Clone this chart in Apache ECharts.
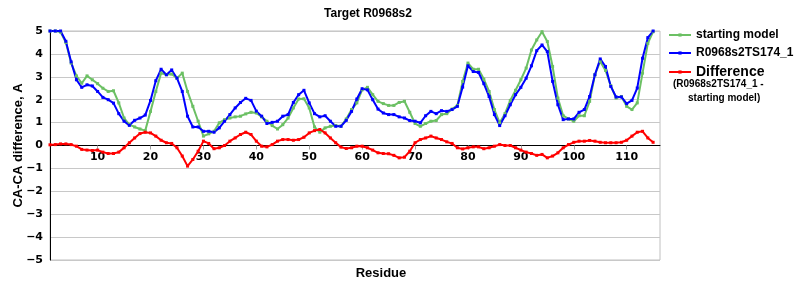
<!DOCTYPE html>
<html>
<head>
<meta charset="utf-8">
<script src="https://cdn.jsdelivr.net/npm/echarts@6/dist/echarts.min.js"></script>
<style>html,body{margin:0;padding:0;background:#fff}#c{width:800px;height:300px}</style>
</head>
<body>
<div id="c"></div>
<script>
var residues = [];
for (var i = 1; i <= 115; i++) residues.push(i);

var startingModel = [
  5.0, 5.0, 4.95, 4.5, 3.6, 3.04, 2.72, 3.04, 2.87, 2.7,
  2.5, 2.36, 2.39, 1.86, 1.2, 0.91, 0.81, 0.72, 0.65, 1.49,
  2.36, 3.16, 3.09, 3.12, 2.94, 3.16, 2.36, 1.71, 1.06, 0.41,
  0.51, 0.62, 0.99, 1.13, 1.2, 1.25, 1.28, 1.38, 1.45, 1.42,
  1.25, 1.06, 0.87, 0.72, 0.91, 1.2, 1.64, 2.03, 2.04, 1.64,
  0.81, 0.58, 0.77, 0.84, 0.87, 0.84, 1.16, 1.57, 1.86, 2.43,
  2.54, 2.22, 1.93, 1.83, 1.75, 1.75, 1.88, 1.93, 1.45, 0.96,
  0.84, 0.96, 1.06, 1.09, 1.35, 1.39, 1.59, 1.75, 2.8, 3.6,
  3.33, 3.33, 2.9, 2.36, 1.57, 0.99, 1.39, 1.97, 2.41, 2.87,
  3.38, 4.17, 4.61, 4.97, 4.54, 3.45, 2.07, 1.3, 1.16, 1.06,
  1.3, 1.3, 1.93, 3.09, 3.67, 3.28, 2.61, 2.07, 2.14, 1.71,
  1.57, 1.86, 3.16, 4.46, 4.97
];

var modelTS174 = [
  5.0, 5.0, 5.0, 4.55, 3.65, 2.87, 2.54, 2.65, 2.6, 2.36,
  2.1, 2.0, 1.85, 1.39, 1.06, 0.88, 1.1, 1.2, 1.33, 1.97,
  2.83, 3.33, 3.09, 3.3, 2.94, 2.36, 1.28, 0.81, 0.81, 0.62,
  0.62, 0.58, 0.77, 1.06, 1.35, 1.64, 1.88, 2.06, 1.97, 1.5,
  1.28, 0.96, 1.01, 1.06, 1.28, 1.35, 1.88, 2.22, 2.41, 1.86,
  1.39, 1.25, 1.3, 1.06, 0.84, 0.84, 1.1, 1.49, 2.03, 2.48,
  2.43, 2.0, 1.59, 1.42, 1.35, 1.35, 1.25, 1.2, 1.09, 1.06,
  0.99, 1.3, 1.49, 1.39, 1.52, 1.49, 1.57, 1.71, 2.55, 3.48,
  3.23, 3.19, 2.7, 2.14, 1.35, 0.87, 1.3, 1.78, 2.22, 2.54,
  2.94, 3.48, 4.14, 4.39, 4.1, 2.8, 1.78, 1.13, 1.16, 1.16,
  1.45, 1.57, 2.14, 3.09, 3.78, 3.45, 2.58, 2.12, 2.12, 1.83,
  1.97, 2.51, 3.81, 4.71, 5.0
];

var difference = [
  0.03, 0.04, 0.07, 0.07, 0.04, -0.03, -0.17, -0.2, -0.22, -0.2,
  -0.29, -0.35, -0.35, -0.29, -0.1, 0.12, 0.33, 0.52, 0.58, 0.55,
  0.41, 0.23, 0.12, 0.09, -0.1, -0.46, -0.9, -0.61, -0.25, 0.19,
  0.09, -0.14, -0.1, 0.0, 0.19, 0.33, 0.48, 0.58, 0.48, 0.19,
  -0.03, -0.06, 0.04, 0.19, 0.26, 0.26, 0.23, 0.26, 0.36, 0.55,
  0.65, 0.7, 0.55, 0.33, 0.12, -0.07, -0.13, -0.1, -0.03, -0.03,
  -0.1, -0.2, -0.32, -0.35, -0.36, -0.43, -0.54, -0.51, -0.25, 0.12,
  0.26, 0.33, 0.41, 0.33, 0.26, 0.16, 0.09, -0.1, -0.15, -0.1,
  -0.06, -0.06, -0.14, -0.1, -0.03, 0.04, 0.0, 0.0, -0.1, -0.2,
  -0.29, -0.35, -0.43, -0.39, -0.54, -0.46, -0.32, -0.1, 0.04, 0.14,
  0.19, 0.19, 0.22, 0.19, 0.14, 0.12, 0.12, 0.12, 0.14, 0.23,
  0.41, 0.58, 0.62, 0.33, 0.14
];

var xTickLabels = [10, 20, 30, 40, 50, 60, 70, 80, 90, 100, 110];

function pairs(vals) {
  return vals.map(function (v, i) { return [residues[i], v]; });
}

var ARIAL = 'Liberation Sans';
var VERD = 'DejaVu Sans';

var chart = echarts.init(document.getElementById('c'), null, {renderer: 'canvas'});

function mkSeries(name, data, color) {
  return {
    name: name,
    type: 'line',
    data: pairs(data),
    symbol: 'rect',
    symbolSize: 3,
    showSymbol: true,
    animation: false,
    lineStyle: {color: color, width: 2},
    itemStyle: {color: color},
    emphasis: {disabled: true}
  };
}

var GRID_TOP = 31, GRID_BOTTOM = 40;
var plotH = 300 - GRID_TOP - GRID_BOTTOM;

chart.setOption({
  animation: false,
  backgroundColor: '#ffffff',
  title: [
    {text: 'Target R0968s2', left: 363, top: 3, textAlign: 'center',
     textStyle: {fontFamily: ARIAL, fontWeight: 'bold', fontSize: 12, color: '#000'}},
    {text: 'Residue', left: 376, top: 262, textAlign: 'center',
     textStyle: {fontFamily: ARIAL, fontWeight: 'bold', fontSize: 13, color: '#000'}},
    {text: '(R0968s2TS174_1 -', left: 668, top: 74,
     textStyle: {fontFamily: ARIAL, fontWeight: 'bold', fontSize: 10, color: '#000'}},
    {text: 'starting model)', left: 683, top: 88,
     textStyle: {fontFamily: ARIAL, fontWeight: 'bold', fontSize: 10, color: '#000'}}
  ],
  legend: {
    orient: 'vertical',
    left: 668,
    top: 29,
    padding: 0,
    itemGap: 6,
    itemWidth: 22,
    itemHeight: 4,
    selectedMode: false,
    data: ['starting model', 'R0968s2TS174_1', 'Difference'],
    formatter: function (n) { return n === 'Difference' ? '{big|' + n + '}' : n; },
    textStyle: {fontFamily: ARIAL, fontWeight: 'bold', fontSize: 12, color: '#000',
      rich: {big: {fontFamily: ARIAL, fontWeight: 'bold', fontSize: 14, color: '#000'}}}
  },
  grid: {left: 50, right: 140, top: GRID_TOP, bottom: GRID_BOTTOM, containLabel: false,
         outerBoundsMode: 'none', show: true, borderColor: '#c0c0c0', borderWidth: 1},
  xAxis: {
    type: 'value',
    min: 1,
    max: 116.3,
    offset: -plotH / 2,
    axisLine: {onZero: false, lineStyle: {color: '#000', width: 1}},
    axisTick: {show: true, customValues: xTickLabels, length: 4, lineStyle: {color: '#a0a0a0'}},
    axisLabel: {customValues: xTickLabels, fontFamily: VERD, fontWeight: 'bold', fontSize: 11, color: '#000', margin: 6},
    splitLine: {show: false}
  },
  yAxis: {
    type: 'value',
    min: -5,
    max: 5,
    interval: 1,
    name: 'CA-CA difference, A',
    nameLocation: 'middle',
    nameRotate: 90,
    nameGap: 25,
    nameMoveOverlap: false,
    nameTextStyle: {fontFamily: ARIAL, fontWeight: 'bold', fontSize: 13, color: '#000'},
    axisLine: {show: true, lineStyle: {color: '#000', width: 1}},
    axisTick: {show: false},
    axisLabel: {fontFamily: VERD, fontWeight: 'bold', fontSize: 11, color: '#000', margin: 7,
      formatter: function (v) { return v < 0 ? '\u2212' + Math.abs(v) : String(v); }},
    splitLine: {show: true, lineStyle: {color: '#c8c8c8', width: 1}}
  },
  series: [
    mkSeries('starting model', startingModel, '#6cc064'),
    mkSeries('R0968s2TS174_1', modelTS174, '#0000ff'),
    mkSeries('Difference', difference, '#ff0000')
  ]
});
</script>
</body>
</html>
